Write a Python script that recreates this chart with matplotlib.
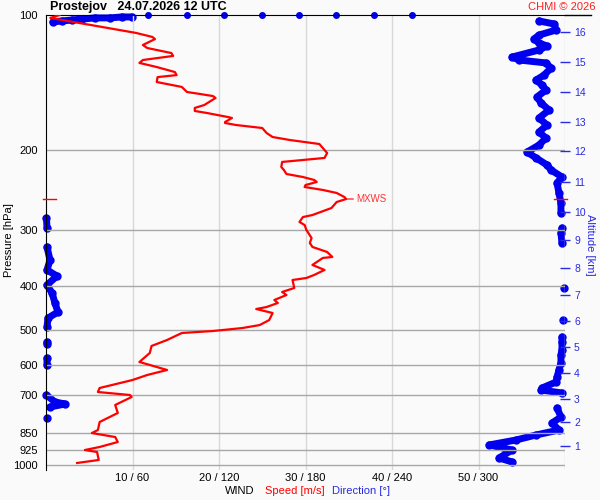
import numpy as np
import matplotlib
matplotlib.use('Agg')
import matplotlib.pyplot as plt
from matplotlib.ticker import NullLocator, FixedLocator

plt.rcParams['font.family'] = ['Liberation Sans', 'DejaVu Sans']

# wind speed profile (pressure hPa, speed m/s)
speed_p = [100.0, 101.5, 109.6, 111.9, 113.1, 116.6, 118.4, 121.5, 123.3, 125.9,
           127.8, 130.5, 133.9, 136.0, 137.4, 140.9, 144.5, 148.3, 149.8, 151.4,
           152.9, 158.5, 160.9, 163.4, 165.1, 168.5, 169.4, 172.9, 173.8, 175.6,
           178.3, 182.9, 186.7, 189.6, 193.5, 197.5, 202.6, 207.8, 210.0, 212.1,
           217.6, 221.0, 225.6, 229.1, 232.6, 235.0, 238.7, 241.1, 244.8, 248.6,
           253.8, 256.4, 260.4, 268.5, 278.3, 281.2, 288.4, 292.9, 300.4, 313.0,
           321.1, 327.7, 336.2, 344.9, 346.7, 359.3, 368.6, 378.2, 384.1, 388.1,
           404.3, 412.6, 419.0, 429.9, 436.5, 445.6, 450.2, 459.5, 476.4, 488.7,
           496.2, 503.8, 509.0, 527.5, 543.9, 563.7, 590.3, 615.0, 631.0, 647.4,
           674.4, 688.4, 699.0, 706.2, 735.6, 766.3, 802.6, 836.2, 849.2, 866.7,
           889.1, 912.0, 926.2, 935.8, 974.7, 989.8]
speed = [1.6, 0.5, 10.4, 12.3, 12.6, 11.2, 11.7, 14.5, 14.7, 11.2,
         10.8, 12.8, 14.9, 15.1, 12.9, 12.8, 15.7, 16.3, 17.8, 19.3,
         19.6, 18.3, 17.2, 17.2, 18.6, 21.0, 21.5, 20.7, 20.7, 22.0,
         25.0, 25.5, 26.2, 28.2, 31.6, 32.0, 32.5, 32.2, 29.7, 27.3,
         27.2, 27.5, 27.8, 29.7, 31.0, 31.3, 30.0, 29.9, 32.0, 33.6,
         34.5, 34.7, 33.6, 33.0, 30.8, 29.7, 29.3, 29.9, 30.1, 30.7,
         30.5, 30.8, 32.5, 33.1, 32.0, 30.8, 32.2, 31.0, 30.1, 28.5,
         28.7, 27.3, 27.8, 26.4, 26.8, 25.5, 24.3, 26.2, 25.8, 24.7,
         22.7, 19.3, 15.7, 14.0, 12.2, 12.0, 10.8, 14.0, 11.7, 10.0,
         6.2, 6.0, 9.7, 9.9, 8.0, 8.3, 6.2, 6.0, 5.3, 8.0,
         8.3, 6.2, 4.5, 5.9, 6.1, 3.6]

# wind direction (pressure hPa, degrees), nan separates runs
dir_p = [103.6, 103.1, 102.6, 102.1, 101.5, 101.5, 101.0, 101.0, np.nan,
         103.1, 104.7, 108.0, 110.8, 113.1, 115.4, 117.2, 119.6, 124.0, 125.9,
         127.8, 131.2, 136.0, 139.5, 143.1, 146.8, 152.1, 156.9, 162.6, 169.4,
         175.6, 182.0, 187.7, 194.5, 201.6, 207.8, 215.4, 221.0, 229.1, 236.2,
         248.6, 261.7, 275.4, np.nan,
         297.4, 305.1, 321.1, np.nan,
         404.3, np.nan,
         476.4, np.nan,
         519.5, 532.9, 555.2, 569.5, 593.4, 615.0, 637.7, 654.0, 674.4, 681.3,
         691.8, np.nan,
         747.0, 782.4, 806.7, 836.2, 857.7, 879.9, 902.6, 926.2, 964.7, 984.7, np.nan,
         282.6, 297.4, np.nan,
         327.7, 350.4, 368.6, 380.2, 398.1, 414.8, 436.5, 457.1, 471.5, 493.6, np.nan,
         533.0, 538.0, np.nan,
         578.5, 599.5, np.nan,
         699.0, 724.4, 731.9, 743.3, np.nan,
         786.0]
direction = [4.8, 11.1, 18.0, 24.9, 33.9, 44.3, 52.6, 59.5, np.nan,
             342.0, 352.4, 353.8, 342.0, 338.5, 342.0, 347.5, 342.0, 323.3, 328.2,
             346.8, 350.3, 345.5, 339.9, 344.1, 346.8, 340.6, 343.4, 348.9, 342.0,
             347.5, 342.0, 346.8, 342.0, 333.7, 339.9, 347.5, 350.3, 357.9, 354.5,
             355.8, 357.2, 357.2, np.nan,
             357.9, 357.2, 357.9, np.nan,
             359.5, np.nan,
             358.6, np.nan,
             357.9, 357.9, 357.9, 357.2, 357.2, 355.8, 354.5, 353.8, 344.1, 343.4,
             357.9, np.nan,
             354.5, 357.2, 351.0, 355.8, 339.9, 326.1, 307.4, 323.3, 314.3, 323.3, np.nan,
             0.3, 0.7, np.nan,
             0.7, 2.8, 0.7, 7.6, 0.7, 4.2, 6.2, 8.3, 1.4, 0.7, np.nan,
             0.7, 0.7, np.nan,
             0.7, 0.7, np.nan,
             0.3, 6.2, 13.2, 2.8, np.nan,
             0.7]

# direction values above the top of the chart
top_dir = [70.6, 97.6, 123.2, 149.5, 175.2, 201.5, 227.8, 254.1]

p_ticks = [100, 200, 300, 400, 500, 600, 700, 850, 925, 1000]
speed_ticks = [10, 20, 30, 40, 50]
speed_labels = ['10 / 60', '20 / 120', '30 / 180', '40 / 240', '50 / 300']

alt_km = list(range(1, 17))
alt_p = [907.6, 802.6, 712.0, 624.6, 546.8, 478.6, 419.1, 365.0,
         316.2, 274.0, 235.0, 200.5, 172.9, 148.3, 127.2, 109.1]

trop_p = 256.7

blue = '#0000ee'
lab_blue = '#2a2ae6'

fig = plt.figure(figsize=(6, 5), dpi=100, facecolor='#fafafa')
ax = fig.add_axes([46 / 600, 1 - 470 / 500, 519 / 600, 455 / 500])
ax.set_facecolor('#fafafa')
ax.set_yscale('log')
ax.set_ylim(1026, 100)
ax.set_xlim(0, 60)

ax.yaxis.set_major_locator(FixedLocator(p_ticks))
ax.yaxis.set_minor_locator(NullLocator())
ax.set_yticklabels([str(t) for t in p_ticks])
ax.set_xticks(speed_ticks)
ax.set_xticklabels(speed_labels)
ax.tick_params(axis='both', length=0, labelsize=8)
ax.tick_params(axis='y', pad=6)
ax.tick_params(axis='x', pad=2)

for p in p_ticks[1:]:
    ax.axhline(p, color='#a8a8a8', lw=1, zorder=1)
for s in speed_ticks + [60]:
    ax.axvline(s, color='#d8d8d8', lw=1, zorder=0.5)

ax.spines['bottom'].set_visible(False)
ax.spines['right'].set_visible(False)
ax.spines['left'].set_color('black')
ax.spines['top'].set_color('black')
ax.axhline(100, xmin=1.0, xmax=1.05, color='black', lw=1, clip_on=False)

# tropopause markers
ax.axhline(trop_p, xmin=-0.006, xmax=0.019, color='red', lw=1, clip_on=False, zorder=5)
ax.axhline(trop_p, xmin=0.979, xmax=1.004, color='red', lw=1, clip_on=False, zorder=5)

# direction on its own x scale
axd = ax.twiny()
axd.set_xlim(0, 360)
axd.set_xticks([])
for sp in axd.spines.values():
    sp.set_visible(False)
axd.plot(direction, dir_p, color=blue, lw=5, marker='o', ms=5,
         solid_capstyle='round', solid_joinstyle='round', clip_on=False, zorder=3)
axd.plot(top_dir, [100] * len(top_dir), 'o', color=blue, ms=4, clip_on=False, zorder=3)

# speed
ax.plot(speed, speed_p, color='red', lw=1.6, zorder=4)
i_max = int(np.argmax(speed))
ax.annotate('MXWS', xy=(speed[i_max], speed_p[i_max]), xytext=(10, 0),
            textcoords='offset pixels', color='#ff3333', fontsize=7, va='center',
            arrowprops=dict(arrowstyle='-', color='red', lw=0.8, shrinkA=0, shrinkB=0))
ax.set_zorder(2)
ax.patch.set_visible(False)
axd.set_zorder(1)

# altitude axis
axa = ax.twinx()
axa.set_yscale('log')
axa.set_ylim(1026, 100)
axa.yaxis.set_major_locator(FixedLocator(alt_p))
axa.yaxis.set_minor_locator(NullLocator())
axa.set_yticklabels([str(k) for k in alt_km])
axa.tick_params(axis='y', direction='inout', length=7, width=1, colors=lab_blue,
                labelsize=7.5, pad=3)
for sp in axa.spines.values():
    sp.set_visible(False)
axa.set_zorder(3)

fig.text(50 / 600, 1 - 7 / 500, 'Prostejov   24.07.2026 12 UTC', fontsize=9,
         fontweight='bold', va='center', ha='left')
fig.text(596 / 600, 1 - 7 / 500, 'CHMI \u00a9 2026', fontsize=8, color='#ff2020',
         va='center', ha='right')
fig.text(9 / 600, 1 - 240 / 500, 'Pressure [hPa]', fontsize=8,
         rotation=90, va='center', ha='center')
fig.text(590 / 600, 1 - 245 / 500, 'Altitude [km]', fontsize=8, color=lab_blue,
         rotation=-90, va='center', ha='center')
fig.text(225 / 600, 1 - 491 / 500, 'WIND', fontsize=8, va='center', ha='left')
fig.text(265 / 600, 1 - 491 / 500, 'Speed [m/s]', fontsize=8, color='red',
         va='center', ha='left')
fig.text(332 / 600, 1 - 491 / 500, 'Direction [\u00b0]', fontsize=8, color=lab_blue,
         va='center', ha='left')

fig.savefig('out.png', dpi=100, facecolor=fig.get_facecolor())
